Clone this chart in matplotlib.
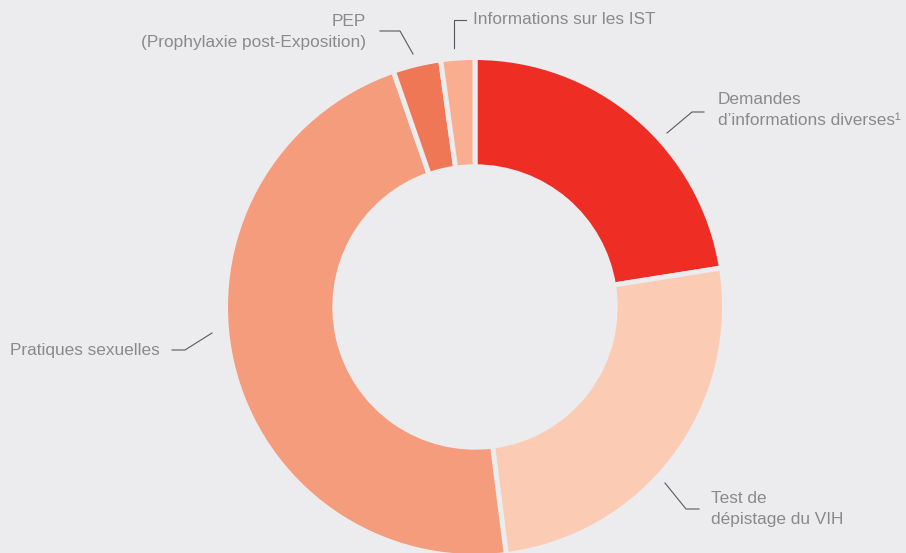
import matplotlib.pyplot as plt

labels = ["Demandes\nd\u2019informations diverses\u00b9",
          "Test de\nd\u00e9pistage du VIH",
          "Pratiques sexuelles",
          "PEP\n(Prophylaxie post-Exposition)",
          "Informations sur les IST"]
values = [22.5, 25.5, 46.7, 3.1, 2.2]
colors = ["#EE2E24", "#FBCBB4", "#F59C7C", "#F07756", "#F9AE8F"]

BG = "#ECEBED"
TXT = "#8A8A8A"
LINE = "#5A5A5A"
H = 553

plt.rcParams['font.family'] = ['Liberation Sans', 'DejaVu Sans']

fig = plt.figure(figsize=(9.06, 5.53), dpi=100)
fig.patch.set_facecolor(BG)
ax = fig.add_axes([0, 0, 1, 1])
ax.set_facecolor(BG)

ax.pie(values, colors=colors, startangle=90, counterclock=False,
       center=(475, H - 307), radius=249.5, frame=True,
       wedgeprops=dict(width=109.3, edgecolor=BG, linewidth=3.6))
ax.set_xlim(0, 906)
ax.set_ylim(0, H)
ax.set_aspect('equal')
ax.axis('off')

# leader lines (pixel coords, y downward) and label anchors
layout = [
    ([(667, 133), (692, 112), (704, 112)], (718, 110), 'left'),
    ([(665, 483), (686, 509), (699, 509)], (711, 509), 'left'),
    ([(212, 333), (185, 350), (172, 350)], (160, 350), 'right'),
    ([(413, 54), (400, 31), (380, 31)], (366, 32), 'right'),
    ([(454, 48), (454, 20), (466, 20)], (473, 20), 'left'),
]
for lab, (pts, (tx, ty), ha) in zip(labels, layout):
    ax.plot([p[0] for p in pts], [H - p[1] for p in pts], color=LINE, lw=0.8)
    ax.text(tx, H - ty, lab, ha=ha, va='center', color=TXT, fontsize=12.4,
            linespacing=1.55, multialignment=ha)

fig.savefig("out.png", dpi=100, facecolor=BG)
